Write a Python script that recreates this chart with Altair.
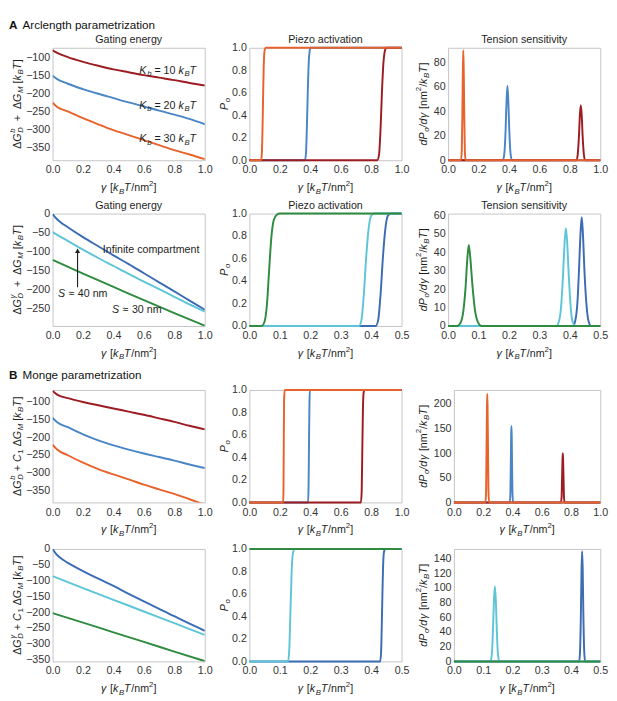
import re
import altair as alt
import pandas as pd

FONT = "Liberation Sans"
TXT = "#1e1e1e"
C_DR = "#9c1c22"
C_BL = "#4a86c6"
C_OR = "#e8622c"
C_DB = "#3b6cb4"
C_LB = "#5ec5d8"
C_GR = "#2e8b3f"

# ---------------- section headers and panel titles ----------------
HEAD_A = ["A", "Arclength parametrization"]
HEAD_B = ["B", "Monge parametrization"]
TITLES = ["Gating energy", "Piezo activation", "Tension sensitivity"]

# ---------------- data: A, top row (arclength, K_b series) ----------------
A1_G = [0, 0.03, 0.1, 0.2, 0.3, 0.4, 0.5, 0.6, 0.7, 0.8, 0.9, 1.0]
A1_E10 = [-80, -87, -99, -112, -123, -133, -141, -149, -156, -163, -171, -178]
A1_E20 = [-151, -160, -173, -188, -201, -213, -225, -236, -248, -259, -271, -286]
A1_E30 = [-226, -238, -250, -269, -286, -302, -316, -330, -344, -358, -370, -383]

A1P_X30 = [0, 0.077, 0.082, 0.086, 0.09, 0.094, 0.098, 0.104, 0.11, 1.0]
A1P_Y30 = [0, 0, 0.06, 0.25, 0.55, 0.82, 0.95, 0.995, 1, 1]
A1P_X20 = [0, 0.365, 0.372, 0.378, 0.384, 0.39, 0.396, 0.402, 1.0]
A1P_Y20 = [0, 0, 0.06, 0.3, 0.62, 0.87, 0.97, 1, 1]
A1P_X10 = [0, 0.84, 0.852, 0.862, 0.871, 0.88, 0.89, 0.9, 1.0]
A1P_Y10 = [0, 0, 0.05, 0.28, 0.6, 0.85, 0.97, 1, 1]

A1D_X30 = [0, 0.085, 0.09, 0.094, 0.097, 0.1, 0.103, 0.106, 0.11, 0.115, 1.0]
A1D_Y30 = [0, 0, 8, 40, 72, 90, 72, 40, 8, 0, 0]
A1D_X20 = [0, 0.36, 0.37, 0.378, 0.384, 0.39, 0.396, 0.402, 0.41, 0.42, 1.0]
A1D_Y20 = [0, 0, 6, 25, 48, 61, 48, 25, 6, 0, 0]
A1D_X10 = [0, 0.845, 0.852, 0.86, 0.866, 0.872, 0.878, 0.884, 0.892, 0.9, 1.0]
A1D_Y10 = [0, 0, 5, 20, 37, 45, 37, 20, 5, 0, 0]

KB_VALUES = [10, 20, 30]
KB_LABEL_X = [0.57, 0.57, 0.57]
KB_LABEL_Y = [-137, -235, -328]

# ---------------- data: A, second row (compartment size) ----------------
A2_G_INF = [0, 0.02, 0.05, 0.1, 0.2, 0.3, 0.4, 0.5, 0.6, 0.7, 0.8, 0.9, 1.0]
A2_E_INF = [0, -10, -21, -35, -61, -85, -109, -132, -156, -180, -204, -228, -252]
A2_G = [0, 0.1, 0.2, 0.3, 0.4, 0.5, 0.6, 0.7, 0.8, 0.9, 1.0]
A2_E_S40 = [-48, -71, -94, -116, -137, -158, -178, -198, -218, -238, -257]
A2_G_S30 = [0, 0.2, 0.4, 0.6, 0.8, 1.0]
A2_E_S30 = [-121, -157, -192, -227, -261, -294]

A2P_XINF = [0, 0.415, 0.423, 0.431, 0.439, 0.447, 0.455, 0.465, 0.5]
A2P_YINF = [0, 0, 0.05, 0.28, 0.62, 0.87, 0.98, 1, 1]
A2P_X40 = [0, 0.36, 0.368, 0.376, 0.384, 0.392, 0.4, 0.41, 0.5]
A2P_Y40 = [0, 0, 0.05, 0.28, 0.62, 0.87, 0.98, 1, 1]
A2P_X30 = [0, 0.04, 0.05, 0.058, 0.065, 0.072, 0.08, 0.09, 0.1, 0.5]
A2P_Y30 = [0, 0, 0.04, 0.2, 0.5, 0.78, 0.94, 0.99, 1, 1]

A2D_XINF = [0, 0.41, 0.418, 0.425, 0.43, 0.435, 0.439, 0.443, 0.448, 0.454, 0.461, 0.47, 0.5]
A2D_YINF = [0, 0, 3, 13, 30, 50, 59, 50, 30, 13, 3, 0, 0]
A2D_X40 = [0, 0.355, 0.365, 0.372, 0.378, 0.383, 0.387, 0.391, 0.396, 0.402, 0.408, 0.418, 0.5]
A2D_Y40 = [0, 0, 3, 12, 29, 46, 53, 46, 29, 12, 3, 0, 0]
A2D_X30 = [0, 0.03, 0.04, 0.05, 0.057, 0.063, 0.068, 0.073, 0.08, 0.088, 0.097, 0.11, 0.5]
A2D_Y30 = [0, 0, 1.5, 8, 20, 36, 44, 37, 22, 9, 2.5, 0, 0]

INF_LABEL = ["Infinite compartment"]
INF_X, INF_Y = [0.33], [-95]
S40_X, S40_Y = [0.035], [-210]
S30_X, S30_Y = [0.39], [-254]
ARROW_X = [0.164]
ARROW_Y = [-193, -101]
ARROW_HEAD_Y = [-97]

# ---------------- data: B, first row (Monge, K_b series) ----------------
B1_G = [0, 0.03, 0.1, 0.2, 0.3, 0.4, 0.5, 0.6, 0.7, 0.8, 0.9, 1.0]
B1_E10 = [-70, -80, -90, -101, -110, -119, -128, -137, -147, -157, -168, -178]
B1_E20 = [-146, -158, -172, -192, -209, -223, -235, -246, -256, -266, -277, -287]
B1_E30 = [-221, -235, -251, -272, -290, -305, -319, -334, -347, -360, -375, -390]

B1P_X30 = [0, 0.222, 0.224, 0.226, 0.228, 0.232, 1.0]
B1P_Y30 = [0, 0, 0.1, 0.5, 0.9, 1, 1]
B1P_X20 = [0, 0.386, 0.389, 0.392, 0.395, 0.398, 1.0]
B1P_Y20 = [0, 0, 0.15, 0.55, 0.9, 1, 1]
B1P_X10 = [0, 0.733, 0.738, 0.742, 0.746, 0.751, 0.756, 1.0]
B1P_Y10 = [0, 0, 0.1, 0.45, 0.82, 0.98, 1, 1]

B1D_X30 = [0, 0.216, 0.22, 0.223, 0.226, 0.228, 0.23, 0.233, 0.236, 0.24, 1.0]
B1D_Y30 = [0, 0, 25, 110, 195, 220, 195, 110, 25, 0, 0]
B1D_X20 = [0, 0.382, 0.386, 0.389, 0.391, 0.393, 0.395, 0.397, 0.4, 0.404, 1.0]
B1D_Y20 = [0, 0, 20, 85, 135, 155, 135, 85, 20, 0, 0]
B1D_X10 = [0, 0.732, 0.736, 0.739, 0.742, 0.744, 0.746, 0.749, 0.752, 0.756, 1.0]
B1D_Y10 = [0, 0, 12, 50, 88, 100, 88, 50, 12, 0, 0]

# ---------------- data: B, second row (Monge, compartment size) ----------------
B2_G_INF = [0, 0.02, 0.05, 0.1, 0.2, 0.3, 0.4, 0.5, 0.6, 0.7, 0.8, 0.9, 1.0]
B2_E_INF = [0, -14, -28, -44, -70, -94, -117, -142, -166, -190, -213, -236, -259]
B2_G = [0, 0.2, 0.4, 0.6, 0.8, 1.0]
B2_E_S40 = [-86, -124, -161, -198, -235, -272]
B2_E_S30 = [-203, -233, -264, -294, -325, -355]

B2P_XINF = [0, 0.43, 0.433, 0.436, 0.439, 0.442, 0.446, 0.5]
B2P_YINF = [0, 0, 0.1, 0.45, 0.82, 0.97, 1, 1]
B2P_X40 = [0, 0.127, 0.131, 0.135, 0.139, 0.143, 0.148, 0.5]
B2P_Y40 = [0, 0, 0.1, 0.45, 0.8, 0.96, 1, 1]
B2P_X30 = [0, 0.5]
B2P_Y30 = [1, 1]

B2D_XINF = [0, 0.428, 0.431, 0.434, 0.436, 0.438, 0.44, 0.442, 0.445, 0.448, 0.5]
B2D_YINF = [0, 0, 15, 70, 125, 150, 125, 70, 15, 0, 0]
B2D_X40 = [0, 0.125, 0.13, 0.134, 0.137, 0.14, 0.143, 0.146, 0.15, 0.155, 0.5]
B2D_Y40 = [0, 0, 12, 50, 85, 102, 85, 50, 12, 0, 0]
B2D_X30 = [0, 0.5]
B2D_Y30 = [0, 0]

# ---------------- axes ticks ----------------
X_TICKS_1 = [0, 0.2, 0.4, 0.6, 0.8, 1.0]
X_TICKS_05 = [0, 0.1, 0.2, 0.3, 0.4, 0.5]
P_TICKS = [0, 0.2, 0.4, 0.6, 0.8, 1.0]
E_TICKS_A = [-100, -150, -200, -250, -300, -350]
E_TICKS_A2 = [0, -50, -100, -150, -200, -250]
E_TICKS_B2 = [0, -50, -100, -150, -200, -250, -300, -350]

# ---------------- helpers ----------------
CW = {' ': 278, '.': 278, '=': 584, '+': 584, '\u2212': 584, '-': 333, '[': 278, ']': 278,
      '/': 278, '\u2248': 584, '\u0394': 668, '\u03b3': 500,
      'A': 667, 'B': 667, 'C': 722, 'D': 722, 'G': 778, 'I': 278, 'K': 667, 'M': 833,
      'P': 667, 'S': 667, 'T': 611, 'a': 556, 'b': 556, 'c': 500, 'd': 556, 'e': 556,
      'f': 278, 'i': 222, 'k': 500, 'm': 833, 'n': 556, 'o': 556, 'p': 556, 'r': 333,
      't': 278}


def tw(s, size):
    return sum(CW.get(ch, 556) for ch in s) * size / 1000.0


ONE = pd.DataFrame({"k": [0]})
W, H = 157, 116


def rich_layers(pieces, enc, data, align="center", angle=0, base=11, small=8, color=TXT):
    items, pos = [], 0.0
    for p in pieces:
        txt, st = p[0], p[1]
        adv = p[2] if len(p) > 2 else True
        sm = st in ("sub", "sup", "isub", "isup")
        size = small if sm else base
        it = st.startswith("i")
        dy = 3.5 if st.endswith("sub") else (-4.5 if st.endswith("sup") else 0)
        cur = pos
        for tok in re.split(r"( +)", txt):
            if tok == "":
                continue
            if tok.strip():
                items.append((tok, size, it, cur, dy))
            cur += tw(tok, size)
        if adv:
            pos = cur + (0.7 if (it and not sm) else 0)
    start = -pos / 2 if align == "center" else 0
    out = []
    for txt, size, it, x0, dy in items:
        out.append(alt.Chart(data).mark_text(
            text=txt, font=FONT, fontSize=size, fontStyle="italic" if it else "normal",
            align="left", baseline="middle", dx=start + x0, dy=dy, angle=angle, color=color
        ).encode(**enc))
    return out


XT = [("\u03b3", "i"), (" [", "r"), ("k", "i"), ("B", "isub"), ("T", "i"), ("/nm", "r"),
      ("2", "sup"), ("]", "r")]


def yt_energy(sup, c1):
    p = [("\u0394", "r"), ("G", "i"), (sup, "isup", False), ("D", "isub")]
    if c1:
        p += [(" + ", "r"), ("C", "i"), ("1", "sub"), (" \u0394", "r")]
    else:
        p += [("  +  \u0394", "r")]
    p += [("G", "i"), ("M", "isub"), (" [", "r"), ("k", "i"), ("B", "isub"), ("T", "i"), ("]", "r")]
    return p


YT_P = [("P", "i"), ("o", "isub")]
YT_D = [("dP", "i"), ("o", "isub"), ("/d", "i"), ("\u03b3", "i"), (" [nm", "r"), ("2", "sup"),
        ("/", "r"), ("k", "i"), ("B", "isub"), ("T", "i"), ("]", "r")]


def header_layers(head, yoff, ypos):
    a = alt.Chart(ONE).mark_text(text=head[0], font=FONT, fontSize=12, fontWeight="bold",
                                 align="left", baseline="middle", color="#111").encode(
        x=alt.value(-yoff - 9), y=alt.value(ypos))
    b = alt.Chart(ONE).mark_text(text=head[1], font=FONT, fontSize=12, align="left",
                                 baseline="middle", color="#111").encode(
        x=alt.value(-yoff + 5), y=alt.value(ypos))
    return [a, b]


def panel(series, xdom, xticks, ydom, yticks, yfmt, ytitle, yoff, width=W, title=None,
          clip=False, extras=None, head=None, head_y=-25):
    xs = alt.Scale(domain=xdom, nice=False, zero=False)
    ys = alt.Scale(domain=ydom, nice=False, zero=False)
    xa = alt.Axis(values=xticks, format=".1f", title=None, labelFlush=False, labelOverlap=False,
                  ticks=False, domain=False, grid=False, labelPadding=4)
    ya = alt.Axis(values=yticks, format=yfmt, title=None, labelFlush=False, labelOverlap=False,
                  ticks=False, domain=False, grid=False, labelPadding=3)
    layers = []
    for xv, yv, col in series:
        df = pd.DataFrame({"x": xv, "y": yv})
        layers.append(alt.Chart(df).mark_line(color=col, strokeWidth=2, interpolate="monotone",
                                              clip=clip).encode(
            x=alt.X("x:Q", scale=xs, axis=xa), y=alt.Y("y:Q", scale=ys, axis=ya)))
    if extras is not None:
        layers += extras(xs, ys, xa, ya)
    # invisible spacer so every panel reserves the same room above its plot
    layers.append(alt.Chart(ONE).mark_text(text="0", font=FONT, fontSize=11, opacity=0,
                                           baseline="middle").encode(
        x=alt.value(width / 2), y=alt.value(0)))
    layers += rich_layers(XT, dict(x=alt.value(width / 2), y=alt.value(H + 29)), ONE)
    layers += rich_layers(ytitle, dict(x=alt.value(-yoff), y=alt.value(H / 2)), ONE, angle=270)
    if title:
        layers.append(alt.Chart(ONE).mark_text(text=title, font=FONT, fontSize=11, color=TXT,
                                               align="center", baseline="middle").encode(
            x=alt.value(width / 2), y=alt.value(-8)))
    if head is not None:
        layers += header_layers(head, yoff, head_y)
    return alt.layer(*layers).properties(width=width, height=H)


def ann_enc(xs, ys, xa, ya):
    return dict(x=alt.X("ax:Q", scale=xs, axis=xa), y=alt.Y("ay:Q", scale=ys, axis=ya))


def kb_extras(xs, ys, xa, ya):
    out = []
    for v, lx, ly in zip(KB_VALUES, KB_LABEL_X, KB_LABEL_Y):
        d = pd.DataFrame({"ax": [lx], "ay": [ly]})
        pcs = [("K", "i"), ("b", "isub"), (" = %d " % v, "r"), ("k", "i"), ("B", "isub"), ("T", "i")]
        out += rich_layers(pcs, ann_enc(xs, ys, xa, ya), d, align="left")
    return out


def s_extras(xs, ys, xa, ya):
    out = []
    d = pd.DataFrame({"ax": INF_X, "ay": INF_Y})
    out += rich_layers([(INF_LABEL[0], "r")], ann_enc(xs, ys, xa, ya), d, align="left")
    d = pd.DataFrame({"ax": S40_X, "ay": S40_Y})
    out += rich_layers([("S", "i"), (" \u2248 40 nm", "r")], ann_enc(xs, ys, xa, ya), d, align="left")
    d = pd.DataFrame({"ax": S30_X, "ay": S30_Y})
    out += rich_layers([("S", "i"), (" \u2248 30 nm", "r")], ann_enc(xs, ys, xa, ya), d, align="left")
    ad = pd.DataFrame({"ax": ARROW_X, "ay": [ARROW_Y[0]], "ay2": [ARROW_Y[1]]})
    out.append(alt.Chart(ad).mark_rule(color="#222", strokeWidth=1.2).encode(
        x=alt.X("ax:Q", scale=xs, axis=xa), y=alt.Y("ay:Q", scale=ys, axis=ya), y2="ay2:Q"))
    hd = pd.DataFrame({"ax": ARROW_X, "ay": ARROW_HEAD_Y})
    out.append(alt.Chart(hd).mark_point(shape="triangle-up", filled=True, size=28, color="#222",
                                        opacity=1).encode(**ann_enc(xs, ys, xa, ya)))
    return out


# ---------------- panels ----------------
a1l = panel([(A1_G, A1_E10, C_DR), (A1_G, A1_E20, C_BL), (A1_G, A1_E30, C_OR)],
            [0, 1], X_TICKS_1, [-386, -73], E_TICKS_A, "d", yt_energy("b", False), 36,
            title=TITLES[0], clip=True, extras=kb_extras, head=HEAD_A, head_y=-23)
a1m = panel([(A1P_X20, A1P_Y20, C_BL), (A1P_X10, A1P_Y10, C_DR), (A1P_X30, A1P_Y30, C_OR)],
            [0, 1], X_TICKS_1, [0, 1], P_TICKS, ".1f", YT_P, 25, title=TITLES[1])
a1r = panel([(A1D_X20, A1D_Y20, C_BL), (A1D_X10, A1D_Y10, C_DR), (A1D_X30, A1D_Y30, C_OR)],
            [0, 1], X_TICKS_1, [0, 92], [0, 20, 40, 60, 80], "d", YT_D, 25, title=TITLES[2])

a2l = panel([(A2_G_INF, A2_E_INF, C_DB), (A2_G, A2_E_S40, C_LB), (A2_G_S30, A2_E_S30, C_GR)],
            [0, 1], X_TICKS_1, [-295, 1], E_TICKS_A2, "d", yt_energy("\u03b3", False), 36,
            title=TITLES[0], clip=True, extras=s_extras)
a2m = panel([(A2P_XINF, A2P_YINF, C_DB), (A2P_X40, A2P_Y40, C_LB), (A2P_X30, A2P_Y30, C_GR)],
            [0, 0.5], X_TICKS_05, [0, 1], P_TICKS, ".1f", YT_P, 25, title=TITLES[1])
a2r = panel([(A2D_XINF, A2D_YINF, C_DB), (A2D_X40, A2D_Y40, C_LB), (A2D_X30, A2D_Y30, C_GR)],
            [0, 0.5], X_TICKS_05, [0, 61], [0, 10, 20, 30, 40, 50, 60], "d", YT_D, 25,
            title=TITLES[2])

b1l = panel([(B1_G, B1_E10, C_DR), (B1_G, B1_E20, C_BL), (B1_G, B1_E30, C_OR)],
            [0, 1], X_TICKS_1, [-384, -67], E_TICKS_A, "d", yt_energy("b", True), 36, clip=True,
            head=HEAD_B, head_y=-15)
b1m = panel([(B1P_X20, B1P_Y20, C_BL), (B1P_X10, B1P_Y10, C_DR), (B1P_X30, B1P_Y30, C_OR)],
            [0, 1], X_TICKS_1, [0, 1], P_TICKS, ".1f", YT_P, 25)
b1r = panel([(B1D_X20, B1D_Y20, C_BL), (B1D_X10, B1D_Y10, C_DR), (B1D_X30, B1D_Y30, C_OR)],
            [0, 1], X_TICKS_1, [0, 228], [0, 50, 100, 150, 200], "d", YT_D, 31, width=W - 6)

b2l = panel([(B2_G_INF, B2_E_INF, C_DB), (B2_G, B2_E_S40, C_LB), (B2_G, B2_E_S30, C_GR)],
            [0, 1], X_TICKS_1, [-356, 0], E_TICKS_B2, "d", yt_energy("\u03b3", True), 36, clip=True)
b2m = panel([(B2P_XINF, B2P_YINF, C_DB), (B2P_X40, B2P_Y40, C_LB), (B2P_X30, B2P_Y30, C_GR)],
            [0, 0.5], X_TICKS_05, [0, 1], P_TICKS, ".1f", YT_P, 25)
b2r = panel([(B2D_XINF, B2D_YINF, C_DB), (B2D_X40, B2D_Y40, C_LB), (B2D_X30, B2D_Y30, C_GR)],
            [0, 0.5], X_TICKS_05, [0, 153], [0, 20, 40, 60, 80, 100, 120, 140], "d", YT_D, 31,
            width=W - 6)

row_a1 = alt.hconcat(a1l, a1m, a1r, spacing=5)
row_a2 = alt.hconcat(a2l, a2m, a2r, spacing=5)
row_b1 = alt.hconcat(b1l, b1m, b1r, spacing=5)
row_b2 = alt.hconcat(b2l, b2m, b2r, spacing=5)

top = alt.vconcat(row_a1, row_a2, spacing=3)
bottom = alt.vconcat(row_b1, row_b2, spacing=4)

chart = alt.vconcat(top, bottom, spacing=7).properties(
    padding={"left": 0, "top": 0, "right": 0, "bottom": 0}
).configure_view(
    stroke="#c4c4c4", strokeWidth=1
).configure_axis(labelFont=FONT, labelFontSize=11, labelColor="#333333")

chart.save("out.html", embed_options={"renderer": "svg", "actions": False})
